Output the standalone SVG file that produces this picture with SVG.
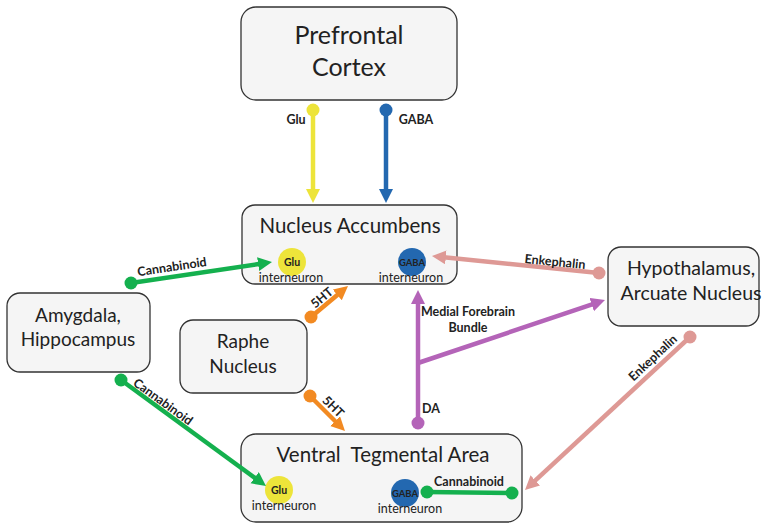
<svg xmlns="http://www.w3.org/2000/svg" width="766" height="525" viewBox="0 0 766 525">
<style>
.box{fill:#f5f5f5;stroke:#333;stroke-width:1.3}
.t{font-family:Lato,"Liberation Sans",sans-serif;fill:#222;text-anchor:middle}
.title{font-size:19px}
.big{font-size:25px}
.lbl{font-family:Lato,"Liberation Sans",sans-serif;font-weight:bold;font-size:12.5px;fill:#222;text-anchor:middle}
.sm{font-size:12.5px}
.cin{font-family:Lato,"Liberation Sans",sans-serif;font-weight:bold;fill:#222;text-anchor:middle}
.ln{fill:none;stroke-width:4.5}
</style>
<defs>
<marker id="aY" markerUnits="userSpaceOnUse" markerWidth="16" markerHeight="16" refX="2" refY="7" orient="auto"><path d="M0,0 L14,7 L0,14 z" fill="#EDE43A"/></marker>
<marker id="aB" markerUnits="userSpaceOnUse" markerWidth="16" markerHeight="16" refX="2" refY="7" orient="auto"><path d="M0,0 L14,7 L0,14 z" fill="#2368B0"/></marker>
<marker id="aG" markerUnits="userSpaceOnUse" markerWidth="16" markerHeight="16" refX="2" refY="7" orient="auto"><path d="M0,0 L14,7 L0,14 z" fill="#14B04E"/></marker>
<marker id="aO" markerUnits="userSpaceOnUse" markerWidth="16" markerHeight="16" refX="2" refY="7" orient="auto"><path d="M0,0 L14,7 L0,14 z" fill="#F28A22"/></marker>
<marker id="aP" markerUnits="userSpaceOnUse" markerWidth="16" markerHeight="16" refX="2" refY="7" orient="auto"><path d="M0,0 L14,7 L0,14 z" fill="#DE9995"/></marker>
<marker id="aV" markerUnits="userSpaceOnUse" markerWidth="16" markerHeight="16" refX="2" refY="7" orient="auto"><path d="M0,0 L14,7 L0,14 z" fill="#B464B8"/></marker>
</defs>

<g id="pfc">
<rect class="box" x="241" y="7" width="216" height="93" rx="15"/>
<text class="t big" x="349" y="44">Prefrontal</text>
<text class="t big" x="349" y="76">Cortex</text>
</g>

<g id="nac">
<rect class="box" x="242" y="205" width="215" height="79" rx="13"/>
<text class="t" x="350" y="233" font-size="20.5">Nucleus Accumbens</text>
<circle cx="292" cy="262" r="14" fill="#EDE43A"/>
<text class="cin" x="292" y="266" font-size="10.5">Glu</text>
<circle cx="412" cy="262" r="14" fill="#2368B0"/>
<text class="cin" x="412" y="265.5" font-size="9.5">GABA</text>
<text class="t sm" x="291" y="282">interneuron</text>
<text class="t sm" x="411" y="282">interneuron</text>
</g>

<g id="amygdala">
<rect class="box" x="7" y="293" width="143" height="79" rx="13"/>
<text class="t title" x="78" y="322">Amygdala,</text>
<text class="t title" x="78" y="346">Hippocampus</text>
</g>

<g id="raphe">
<rect class="box" x="180" y="320" width="127" height="73" rx="13"/>
<text class="t title" x="243" y="348">Raphe</text>
<text class="t title" x="243" y="373">Nucleus</text>
</g>

<g id="hypothalamus">
<rect class="box" x="608" y="247" width="151" height="79" rx="13"/>
<text class="t" x="691" y="275" font-size="19.5">Hypothalamus,</text>
<text class="t" x="691" y="300" font-size="19.5">Arcuate Nucleus</text>
</g>

<g id="vta">
<rect class="box" x="241" y="434" width="281" height="88" rx="15"/>
<text class="t" x="383" y="462" font-size="20.5" xml:space="preserve" style="white-space:pre">Ventral  Tegmental Area</text>
<circle cx="279" cy="490" r="14" fill="#EDE43A"/>
<text class="cin" x="279" y="494" font-size="10.5">Glu</text>
<circle cx="405" cy="493" r="14" fill="#2368B0"/>
<text class="cin" x="405" y="496.5" font-size="9.5">GABA</text>
<text class="t sm" x="284" y="510">interneuron</text>
<text class="t sm" x="410" y="513">interneuron</text>
</g>

<g id="connectors">
<!-- PFC Glu -->
<line class="ln" x1="313" y1="110" x2="313" y2="191" stroke="#EDE43A" marker-end="url(#aY)"/>
<circle cx="313" cy="110" r="6.5" fill="#EDE43A"/>
<text class="lbl" x="296" y="124" font-size="14">Glu</text>
<!-- PFC GABA -->
<line class="ln" x1="386" y1="110" x2="386" y2="191" stroke="#2368B0" marker-end="url(#aB)"/>
<circle cx="386" cy="110" r="6.5" fill="#2368B0"/>
<text class="lbl" x="416" y="124" font-size="14">GABA</text>
<!-- Amygdala -> NAc cannabinoid -->
<line class="ln" x1="131" y1="283" x2="260.1" y2="263.8" stroke="#14B04E" marker-end="url(#aG)"/>
<circle cx="131" cy="283" r="6.5" fill="#14B04E"/>
<text class="lbl" transform="translate(172.6,271) rotate(-8.5)">Cannabinoid</text>
<!-- Amygdala -> VTA cannabinoid -->
<line class="ln" x1="121" y1="380" x2="256.3" y2="478.9" stroke="#14B04E" marker-end="url(#aG)"/>
<circle cx="121" cy="380" r="6.5" fill="#14B04E"/>
<text class="lbl" transform="translate(160.6,405.2) rotate(36)">Cannabinoid</text>
<!-- Raphe 5HT -->
<line class="ln" x1="311" y1="317" x2="338.8" y2="293.7" stroke="#F28A22" marker-end="url(#aO)"/>
<circle cx="311" cy="317" r="6.5" fill="#F28A22"/>
<text class="lbl" transform="translate(324.6,301) rotate(-40)">5HT</text>
<line class="ln" x1="310" y1="396" x2="336.5" y2="422.5" stroke="#F28A22" marker-end="url(#aO)"/>
<circle cx="310" cy="396" r="6.5" fill="#F28A22"/>
<text class="lbl" transform="translate(330.2,409.8) rotate(45)">5HT</text>
<!-- Enkephalin -->
<line class="ln" x1="599" y1="273" x2="443.9" y2="257.2" stroke="#DE9995" marker-end="url(#aP)"/>
<circle cx="599" cy="273" r="6.5" fill="#DE9995"/>
<text class="lbl" transform="translate(554.6,266) rotate(5.8)">Enkephalin</text>
<line class="ln" x1="690" y1="337" x2="533.8" y2="481.8" stroke="#DE9995" marker-end="url(#aP)"/>
<circle cx="690" cy="337" r="6.5" fill="#DE9995"/>
<text class="lbl" transform="translate(655.7,360.9) rotate(-43)">Enkephalin</text>
<!-- DA / Medial forebrain bundle -->
<line class="ln" x1="418" y1="423" x2="418" y2="302" stroke="#B464B8" marker-end="url(#aV)"/>
<line class="ln" x1="418" y1="363" x2="593.6" y2="303.9" stroke="#B464B8" marker-end="url(#aV)"/>
<circle cx="418" cy="423" r="6.5" fill="#B464B8"/>
<text class="lbl" x="431" y="413">DA</text>
<text class="lbl" x="468" y="316">Medial Forebrain</text>
<text class="lbl" x="468" y="332">Bundle</text>
<!-- VTA cannabinoid -->
<line class="ln" x1="427" y1="492" x2="512" y2="493" stroke="#14B04E"/>
<circle cx="427" cy="492" r="6.5" fill="#14B04E"/>
<circle cx="512" cy="493" r="6.5" fill="#14B04E"/>
<text class="lbl" x="469" y="486">Cannabinoid</text>
</g>
</svg>
